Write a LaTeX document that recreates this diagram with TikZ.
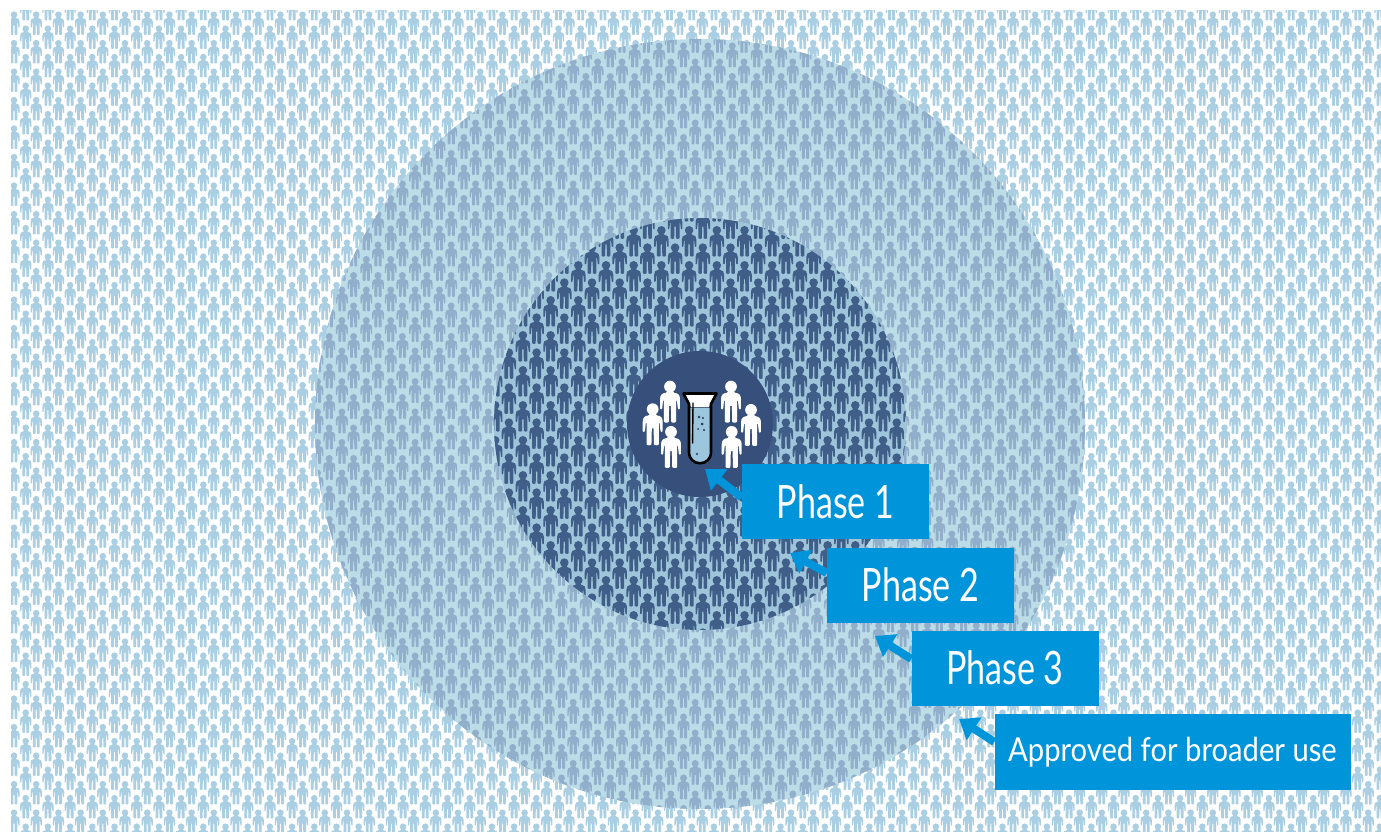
\documentclass[tikz,border=0pt]{standalone}
\usepackage{fontspec}
\usetikzlibrary{arrows.meta}
\newfontfamily\labfont[FakeStretch=0.74]{Lato}
\newfontfamily\widefont[FakeStretch=0.885]{Lato}
\definecolor{bgperson}{HTML}{AACFE2}
\definecolor{ringfill}{HTML}{BCDCE8}
\definecolor{ringperson}{HTML}{91AFCA}
\definecolor{midfill}{HTML}{9FC5DB}
\definecolor{midperson}{HTML}{3F5E88}
\definecolor{corefill}{HTML}{364F7B}
\definecolor{boxblue}{HTML}{0095DA}
\definecolor{liquid}{HTML}{9CC6DE}
\newcommand{\personshape}{
  (3.3,-20.3) arc[start angle=0,end angle=-360,radius=3.3] -- cycle
  (-1.6,-17.6) -- (-2.4,-16.8) .. controls (-4.6,-16.6) and (-5.6,-15.4) .. (-5.6,-13.2)
  -- (-5.6,-8) .. controls (-5.6,-7.2) and (-4.4,-7.2) .. (-4.4,-8)
  -- (-3.9,-12.4) -- (-3.4,-12.4) -- (-3.4,-0.6) .. controls (-3.4,0.2) and (-0.7,0.2) .. (-0.7,-0.6)
  -- (-0.5,-9.5) -- (0.5,-9.5) -- (0.7,-0.6) .. controls (0.7,0.2) and (3.4,0.2) .. (3.4,-0.6)
  -- (3.4,-12.4) -- (3.9,-12.4) -- (4.4,-8) .. controls (4.4,-7.2) and (5.6,-7.2) .. (5.6,-8)
  -- (5.6,-13.2) .. controls (5.6,-15.4) and (4.6,-16.6) .. (2.4,-16.8) -- (1.6,-17.6) -- cycle}
\newsavebox{\rowbg}
\newsavebox{\rowring}
\newsavebox{\rowmid}
\newcommand{\makestrip}[8]{%
  \sbox{#1}{\begin{tikzpicture}[x=1pt,y=-1pt]
    \useasboundingbox (0,-60) rectangle (1400,60);
    \fill[#2] \foreach \i in {0,...,#8}{
      [shift={(#4+#7*\i,0)},scale=#3] \personshape
    };
    \fill[#2] \foreach \i in {0,...,#8}{
      [shift={(#5+#7*\i,#6)},scale=#3] \personshape
    };
  \end{tikzpicture}}}
\newcommand{\putstrip}[2]{\pgftext[left,bottom,at={\pgfpointxy{0}{#2+60}}]{\usebox{#1}}}
\tikzset{
  labelbox/.style={fill=boxblue,text=white,inner sep=0pt,font=\labfont\fontsize{46}{46}\selectfont},
  phasebox/.style={labelbox,minimum width=187pt,minimum height=75pt},
  pointer/.style={draw=boxblue,line width=8pt,-{Triangle[length=18pt,width=26pt]}},
}
\begin{document}
\begin{tikzpicture}[x=1pt,y=-1pt]
\makestrip{\rowbg}{bgperson}{1}{14}{25.7}{14}{22.2}{61}
\makestrip{\rowring}{ringperson}{1.06}{304.8}{293.1}{14.5}{24.4}{32}
\makestrip{\rowmid}{midperson}{1.3}{467.5}{453.5}{17.3}{27.7}{17}
\pgfresetboundingbox
\useasboundingbox (0,0) rectangle (1381,832);
\fill[white] (0,0) rectangle (1381,832);
% background crowd
\begin{scope}
  \clip (11,11) rectangle (1381,832);
  \foreach \k in {-1,...,28}{ \putstrip{\rowbg}{35+28.5*\k} }
\end{scope}
% phase 3 ring
\fill[ringfill] (700,424) circle[radius=385];
\begin{scope}
  \clip (700,424) circle[radius=385];
  \foreach \k in {-7,...,20}{ \putstrip{\rowring}{236+30.5*\k} }
\end{scope}
% phase 2 ring
\fill[midfill] (700,424) circle[radius=206];
\begin{scope}
  \clip (700,424) circle[radius=206];
  \foreach \k in {-3,...,10}{ \putstrip{\rowmid}{291.7+35*\k} }
\end{scope}
% core
\fill[corefill] (700,424) circle[radius=73];
\foreach \x/\y in {670/422.7,652.7/445.3,671/468,731/422.7,751/446,731.7/468}{
  \fill[white,shift={(\x,\y)},scale=1.78] \personshape;
}
% test tube
\fill[liquid] (689,408) -- (711,408) -- (711,452) .. controls (711,466) and (689,466) .. (689,452) -- cycle;
\fill[white] (685,394) -- (715,394) -- (709,407) -- (691,407) -- cycle;
\draw[black,line width=2.6pt,line join=round] (683.5,393.5) -- (716.5,393.5) -- (711,404) -- (711,452) .. controls (711,467) and (689,467) .. (689,452) -- (689,404) -- cycle;
\draw[black,line width=1.4pt,line cap=round] (693,403) -- (692.6,443);
\foreach \x/\y/\r in {699/417/1.3,703/418/1.1,702/424/1.5,698/429/1,704/430/1.2,697/454/1.2}{
  \fill[corefill!70!black] (\x,\y) circle[radius=\r];
}
% labels
\node[phasebox] (p1) at (835.5,501.5) {Phase 1};
\node[phasebox] (p2) at (920.5,585) {Phase 2};
\node[phasebox] (p3) at (1005,668) {Phase 3};
\node[labelbox,minimum width=356pt,minimum height=76pt,font=\widefont\fontsize{33}{33}\selectfont] (p4) at (1172.5,752) {Approved for broader use};
\coordinate (t1) at (705,469);
\coordinate (t2) at (790,553);
\coordinate (t3) at (875,636);
\coordinate (t4) at (959,719);
\draw[pointer] ([yshift=4pt]p1.west) -- (t1);
\draw[pointer] ([yshift=12pt]p2.west) -- (t2);
\draw[pointer] ([yshift=9pt]p3.west) -- (t3);
\draw[pointer] ([yshift=10pt]p4.west) -- (t4);
\end{tikzpicture}
\end{document}
